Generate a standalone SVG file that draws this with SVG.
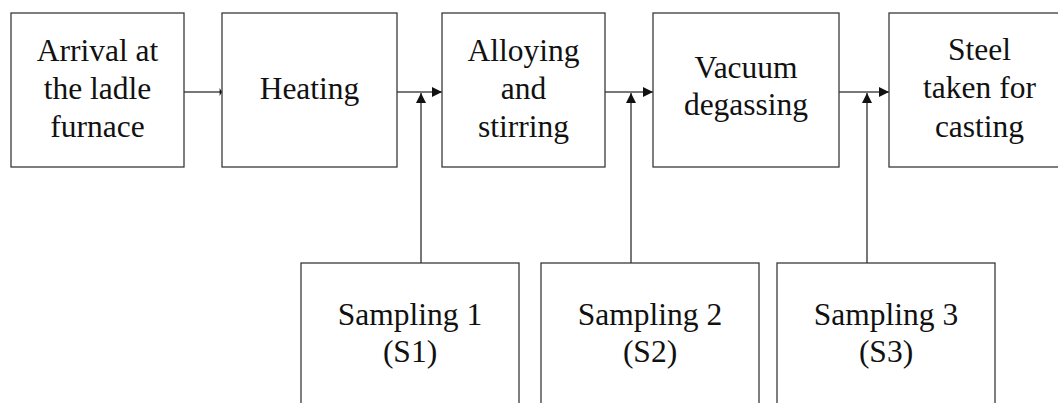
<svg xmlns="http://www.w3.org/2000/svg" width="1058" height="403" viewBox="0 0 1058 403">
<style>
.box{fill:#fff;stroke:#3a3a3a;stroke-width:1.3}
.t{font-family:"Liberation Serif","Times New Roman",serif;font-size:31.5px;fill:#111;text-anchor:middle}
.c{fill:none;stroke:#4a4a4a;stroke-width:1.5}
.h{fill:#111;stroke:none}
</style>
<defs>
<marker id="ar" viewBox="0 0 10 10" refX="10" refY="5" markerWidth="11" markerHeight="10" markerUnits="userSpaceOnUse" orient="auto">
<path d="M0,0 L10,5 L0,10 z" class="h"/>
</marker>
<marker id="tick" viewBox="0 0 3 10" refX="3" refY="5" markerWidth="3" markerHeight="8" markerUnits="userSpaceOnUse" orient="auto">
<path d="M0,0 L3,5 L0,10 z" class="h"/>
</marker>
</defs>
<rect width="1058" height="403" fill="#fff"/>
<g id="connectors">
<line class="c" x1="184" y1="92" x2="222" y2="92" marker-end="url(#tick)"/>
<line class="c" x1="397" y1="92" x2="442" y2="92" marker-end="url(#ar)"/>
<line class="c" x1="605" y1="92" x2="653" y2="92" marker-end="url(#ar)"/>
<line class="c" x1="839" y1="92" x2="889" y2="92" marker-end="url(#ar)"/>
<line class="c" x1="421" y1="263" x2="421" y2="93" marker-end="url(#ar)"/>
<line class="c" x1="631" y1="263" x2="631" y2="93" marker-end="url(#ar)"/>
<line class="c" x1="867" y1="263" x2="867" y2="93" marker-end="url(#ar)"/>
</g>
<g id="arrival">
<rect class="box" x="11" y="13" width="173" height="154"/>
<text class="t" x="97.5" y="61">Arrival at</text>
<text class="t" x="97.5" y="99">the ladle</text>
<text class="t" x="97.5" y="137">furnace</text>
</g>
<g id="heating">
<rect class="box" x="222" y="13" width="175" height="154"/>
<text class="t" x="309.5" y="99">Heating</text>
</g>
<g id="alloying">
<rect class="box" x="442" y="13" width="163" height="154"/>
<text class="t" x="523.5" y="61">Alloying</text>
<text class="t" x="523.5" y="99">and</text>
<text class="t" x="523.5" y="137">stirring</text>
</g>
<g id="vacuum">
<rect class="box" x="653" y="13" width="186" height="154"/>
<text class="t" x="746" y="78">Vacuum</text>
<text class="t" x="746" y="115">degassing</text>
</g>
<g id="steel">
<rect class="box" x="889" y="13" width="181" height="154"/>
<text class="t" x="979.5" y="60">Steel</text>
<text class="t" x="979.5" y="98">taken for</text>
<text class="t" x="979.5" y="137">casting</text>
</g>
<g id="s1">
<rect class="box" x="301" y="263" width="218" height="160"/>
<text class="t" x="410" y="325">Sampling 1</text>
<text class="t" x="410" y="362">(S1)</text>
</g>
<g id="s2">
<rect class="box" x="541" y="263" width="218" height="160"/>
<text class="t" x="650" y="325">Sampling 2</text>
<text class="t" x="650" y="362">(S2)</text>
</g>
<g id="s3">
<rect class="box" x="777" y="263" width="218" height="160"/>
<text class="t" x="886" y="325">Sampling 3</text>
<text class="t" x="886" y="362">(S3)</text>
</g>
</svg>
